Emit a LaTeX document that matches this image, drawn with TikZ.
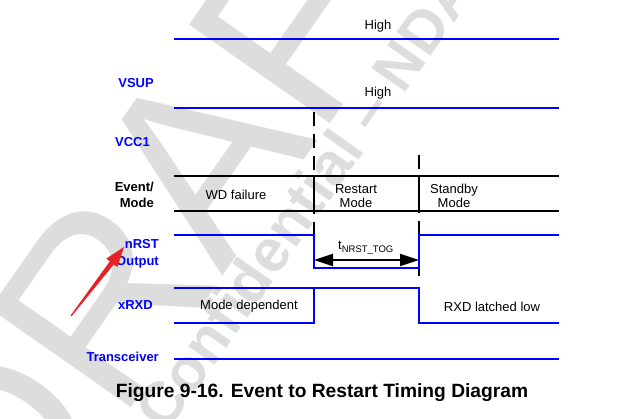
\documentclass[tikz,border=0pt]{standalone}
\usepackage{fontspec}
\setmainfont{Liberation Sans}
\usetikzlibrary{arrows.meta,calc}
\definecolor{wm}{RGB}{221,221,221}
\definecolor{sigblue}{RGB}{0,0,255}
\definecolor{annred}{RGB}{232,32,40}
\begin{document}
\begin{tikzpicture}[x=1pt,y=-1pt,
  wire/.style={sigblue, line width=2pt, line join=miter},
  evline/.style={black, line width=2pt},
  marker/.style={black, line width=2pt, dash pattern=on 14pt off 8pt},
  siglabel/.style={text=sigblue, font=\fontsize{13}{16}\selectfont\bfseries, anchor=base east, inner sep=0pt},
  evlabel/.style={text=black, font=\fontsize{13}{16}\selectfont\bfseries, anchor=base east, inner sep=0pt},
  txt/.style={text=black, font=\fontsize{13}{14}\selectfont, anchor=base, inner sep=0pt},
  watermark/.style={text=wm, inner sep=0pt, rotate=55}]
\useasboundingbox[fill=white] (0,0) rectangle (640,418);

% watermark
\node[watermark, font=\fontsize{250}{250}\selectfont] (wmdraft) at (184,182) {DRAFT};
\node[watermark, font=\fontsize{60}{60}\selectfont\bfseries] (wmnda) at (305,199) {Confidential – NDA};

% markers
\coordinate (mA1) at (314,112); \coordinate (mA2) at (314,236);
\coordinate (mB1) at (419,155); \coordinate (mB2) at (419,276);
\draw[marker] (mA1) -- (mA2);
\draw[marker] (mB1) -- (mB2);

% VSUP and VCC1
\draw[wire] (174,39) -- (559,39);
\draw[wire] (174,108) -- (559,108);

% Event / Mode
\draw[evline] (174,176) -- (559,176);
\draw[evline] (174,211) -- (559,211);
\draw[evline] (314,176) -- (314,211);
\draw[evline] (419,176) -- (419,211);

% nRST
\draw[wire] (174,235) -- (314,235) -- (314,268) -- (419,268) -- (419,235) -- (559,235);

% xRXD
\draw[wire] (174,288) -- (419,288) -- (419,323) -- (559,323);
\draw[wire] (174,323) -- (314,323) -- (314,288);

% Transceiver
\draw[wire] (174,359) -- (559,359);

% t_NRST_TOG arrow
\coordinate (tA) at (314,260); \coordinate (tB) at (419,260);
\draw[black, line width=2pt, {Triangle[length=19pt,width=12pt]}-{Triangle[length=19pt,width=12pt]}] (tA) -- (tB);
\node[txt, anchor=base west] (tlab) at (338,249) {t\raisebox{-3.5pt}{\fontsize{9.5}{10}\selectfont NRST\_TOG}};

% texts
\node[txt] (high1) at (378,29) {High};
\node[txt] (high2) at (378,96) {High};
\node[txt] (wd) at (236,199) {WD failure};
\node[txt] (rs1) at (356,193) {Restart};
\node[txt] (rs2) at (356,207) {Mode};
\node[txt] (sb1) at (454,193) {Standby};
\node[txt] (sb2) at (454,207) {Mode};
\node[txt] (md) at (249,309) {Mode dependent};
\node[txt] (rxl) at (492,311) {RXD latched low};

% signal labels
\node[siglabel] (vsup) at (154,87) {VSUP};
\node[siglabel] (vcc1) at (150,146) {VCC1};
\node[evlabel] (ev1) at (154,191) {Event/};
\node[evlabel] (ev2) at (154,207) {Mode};
\node[siglabel] (nrst1) at (159,248) {nRST};
\node[siglabel] (nrst2) at (159,265) {Output};
\node[siglabel] (xrxd) at (153,309) {xRXD};
\node[siglabel] (trx) at (159,361) {Transceiver};

% caption
\node[text=black, font=\fontsize{19.2}{22}\selectfont\bfseries, anchor=base, inner sep=0pt] (cap) at (322,397) {Figure 9-16. Event to Restart Timing Diagram};

% red annotation arrow
\coordinate (rTail) at (71,316);
\coordinate (rTip) at (124,247);
\coordinate (rBase) at ($(rTip)!20pt!(rTail)$);
\fill[annred] ($(rTail)!0.6pt!90:(rTip)$) -- ($(rBase)!2.5pt!90:(rTip)$) -- ($(rBase)!7pt!90:(rTip)$)
  -- (rTip) -- ($(rBase)!7pt!-90:(rTip)$) -- ($(rBase)!2.5pt!-90:(rTip)$) -- ($(rTail)!0.6pt!-90:(rTip)$) -- cycle;
\end{tikzpicture}
\end{document}
